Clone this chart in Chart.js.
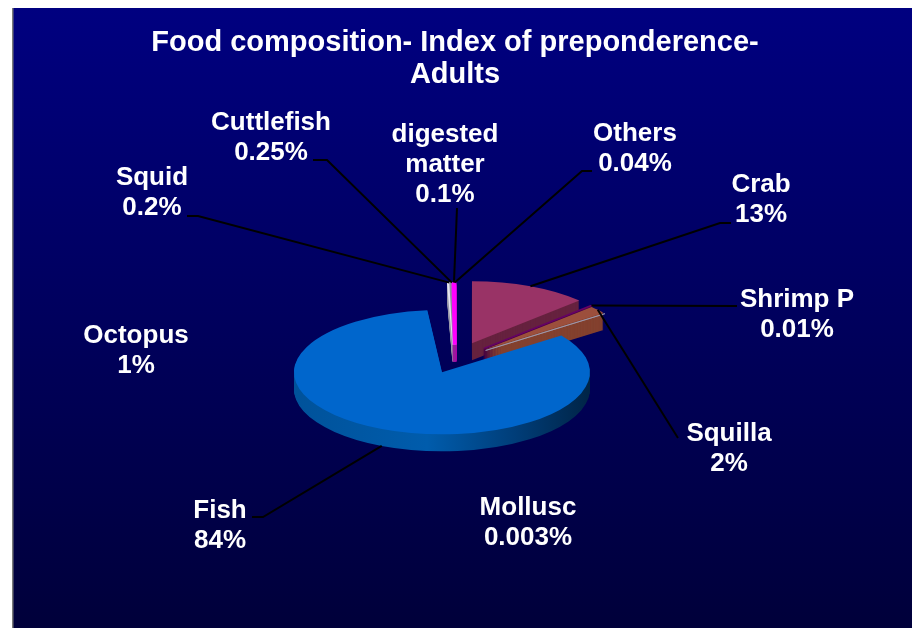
<!DOCTYPE html>
<html>
<head>
<meta charset="utf-8">
<script src="https://cdn.jsdelivr.net/npm/chart.js@4/dist/chart.umd.min.js"></script>
<style>
html,body{margin:0;padding:0;background:#fff;}
#wrap{width:912px;height:628px;position:relative;}
</style>
</head>
<body>
<div id="wrap"><canvas id="c" width="912" height="628"></canvas></div>
<script>
// ---------------- data ----------------
const categories = ['Crab', 'Shrimp P', 'Squilla', 'Mollusc', 'Fish', 'Octopus', 'Squid', 'Cuttlefish', 'digested matter', 'Others'];
const values = [13, 0.01, 2, 0.003, 84, 1, 0.2, 0.25, 0.1, 0.04];
const valueLabels = ['13%', '0.01%', '2%', '0.003%', '84%', '1%', '0.2%', '0.25%', '0.1%', '0.04%'];
const nameLines = [['Crab'], ['Shrimp P'], ['Squilla'], ['Mollusc'], ['Fish'], ['Octopus'], ['Squid'], ['Cuttlefish'], ['digested', 'matter'], ['Others']];
const titleLines = ['Food composition- Index of preponderence-', 'Adults'];

// ---------------- styling ----------------
const CLEAR = 'rgba(0,0,0,0)';
const topColors  = ['#993366', '#660066', '#9c4f3c', '#a0a0b8', '#0066cc', CLEAR, '#e4e4f0', '#8c8ca0', '#ff00ff', CLEAR];
const sideColors = ['#66223f', '#440044', '#83412f', '#83412f', 'FISH',    CLEAR, '#9a9aaa', '#5e5e70', '#aa00aa', CLEAR];
const explode    = [43, 40, 38, 38, 32, 36, 36, 36, 36, 36];
const topBorder  = [0, 3, 0, 1, 0, 0, 3, 3, 4, 0];
const sideBorder = [0, 3, 0, 0, 0, 0, 3, 3, 4, 0];
const TILT = 0.42;
const DEPTH = 17;
const RADIUS = 148;
// label text: [centre x, first baseline y]; leader: [x0, y0, elbow x] or null
const labelPos = [[761, 192], [797, 307], [729, 441], [528, 515], [220, 518], [136, 343], [152, 185], [271, 130], [445, 142], [635, 141]];
const leaders  = [[731, 223, 720], [737, 306, 737], [678, 438, 678], null, [252, 517, 263], null, [187, 216, 198], [313, 160, 327], [457, 208, 457], [592, 171, 582]];
const LABEL_FONT = 'bold 26px "Liberation Sans", Arial, sans-serif';
const LINE_GAP = 30;

// ---------------- plugins ----------------
const bgPlugin = {
  id: 'bgPlugin',
  beforeDraw(chart) {
    const {ctx, width, height} = chart;
    ctx.save();
    ctx.fillStyle = '#ffffff';
    ctx.fillRect(0, 0, width, height);
    const g = ctx.createLinearGradient(0, 8, 0, height);
    g.addColorStop(0, '#000080');
    g.addColorStop(1, '#00003a');
    ctx.fillStyle = g;
    ctx.fillRect(12, 8, width - 12, height - 8);
    ctx.fillStyle = '#7a7a7a';
    ctx.fillRect(12, 8, 1.5, height - 8);
    ctx.restore();
  }
};

function drawSlice(ctx, arc, i, dy, fill, bw) {
  const h = (arc.startAngle + arc.endAngle) / 2;
  const e = explode[i];
  const fake = Object.create(arc);
  fake.options = Object.assign({}, arc.options, {
    backgroundColor: fill,
    borderColor: fill,
    borderWidth: bw,
    offset: 0
  });
  ctx.save();
  ctx.translate(Math.cos(h) * e, Math.sin(h) * e + dy);
  arc.constructor.prototype.draw.call(fake, ctx);
  ctx.restore();
}

const pie3d = {
  id: 'pie3d',
  beforeDatasetsDraw(chart) {
    const ctx = chart.ctx;
    const arcs = chart.getDatasetMeta(0).data;
    if (!arcs.length) return false;
    const cx = arcs[0].x, cy = arcs[0].y;
    const fishSide = ctx.createLinearGradient(cx - RADIUS, 0, cx + RADIUS, 0);
    fishSide.addColorStop(0, '#00529a');
    fishSide.addColorStop(0.45, '#005cac');
    fishSide.addColorStop(0.75, '#003d78');
    fishSide.addColorStop(1, '#002446');
    ctx.save();
    ctx.translate(cx, cy);
    ctx.scale(1, TILT);
    ctx.translate(-cx, -cy);
    for (let d = DEPTH; d >= 1; d--) {
      arcs.forEach((arc, i) => {
        const f = sideColors[i] === 'FISH' ? fishSide : sideColors[i];
        drawSlice(ctx, arc, i, d / TILT, f, sideBorder[i]);
      });
    }
    arcs.forEach((arc, i) => drawSlice(ctx, arc, i, 0, topColors[i], topBorder[i]));
    ctx.restore();
    return false;
  }
};

const labelsPlugin = {
  id: 'labelsPlugin',
  afterDraw(chart) {
    const ctx = chart.ctx;
    const arcs = chart.getDatasetMeta(0).data;
    ctx.save();
    // leader lines
    ctx.strokeStyle = '#000000';
    ctx.lineWidth = 2;
    arcs.forEach((arc, i) => {
      const L = leaders[i];
      if (!L) return;
      const h = (arc.startAngle + arc.endAngle) / 2;
      const r = arc.outerRadius + explode[i];
      let ex = arc.x + Math.cos(h) * r;
      let ey = arc.y + Math.sin(h) * r * TILT;
      if (Math.sin(h) > 0.3) ey += DEPTH;
      ctx.beginPath();
      ctx.moveTo(L[0], L[1]);
      ctx.lineTo(L[2], L[1]);
      ctx.lineTo(ex, ey);
      ctx.stroke();
    });
    // texts
    ctx.fillStyle = '#ffffff';
    ctx.font = LABEL_FONT;
    ctx.textAlign = 'center';
    ctx.textBaseline = 'alphabetic';
    categories.forEach((c, i) => {
      const lines = nameLines[i].concat([valueLabels[i]]);
      const [x, y] = labelPos[i];
      lines.forEach((t, k) => ctx.fillText(t, x, y + k * LINE_GAP));
    });
    ctx.restore();
  }
};

// ---------------- chart ----------------
new Chart(document.getElementById('c'), {
  type: 'pie',
  data: {
    labels: categories,
    datasets: [{
      data: values,
      backgroundColor: topColors,
      borderWidth: 0,
      radius: RADIUS
    }]
  },
  options: {
    responsive: false,
    animation: false,
    rotation: 0,
    layout: {padding: {left: 20, right: 22, top: 0, bottom: 10}},
    plugins: {
      legend: {display: false},
      tooltip: {enabled: false},
      title: {
        display: true,
        text: titleLines,
        color: '#ffffff',
        font: {family: '"Liberation Sans", Arial, sans-serif', size: 29, weight: 'bold', lineHeight: 1.1},
        padding: {top: 27, bottom: 11}
      }
    }
  },
  plugins: [bgPlugin, pie3d, labelsPlugin]
});
</script>
</body>
</html>
